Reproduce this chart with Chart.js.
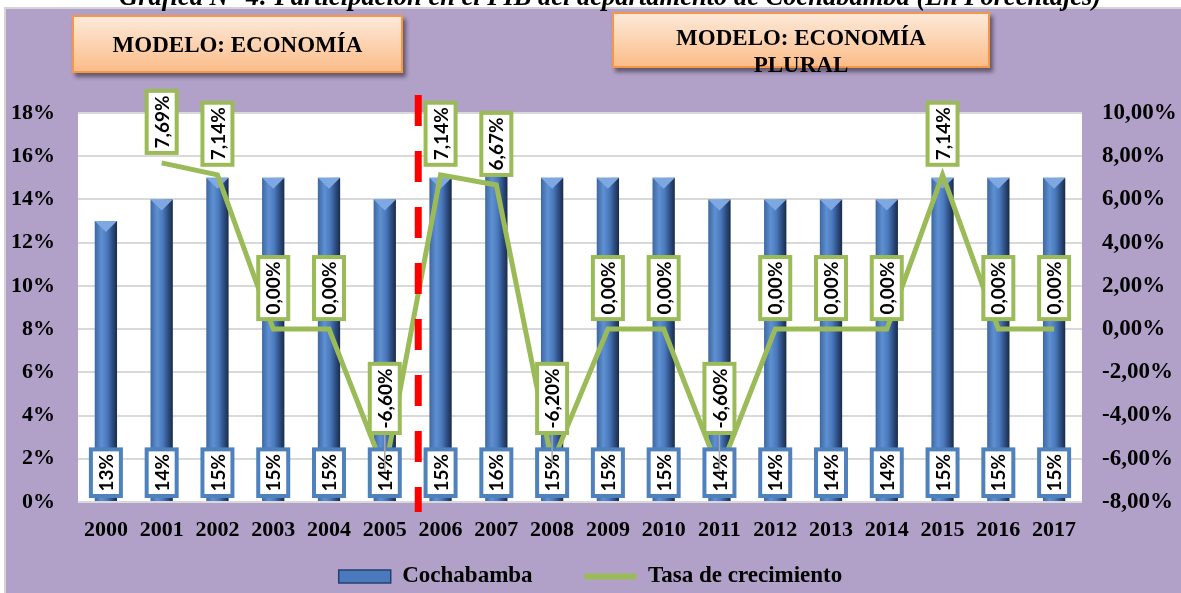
<!DOCTYPE html>
<html>
<head>
<meta charset="utf-8">
<script src="https://cdn.jsdelivr.net/npm/chart.js@4.4.0/dist/chart.umd.min.js"></script>
<style>
  body { margin: 0; background: #fff; }
  #wrap { position: relative; width: 1181px; height: 593px; overflow: hidden; }
  #titulo { position: absolute; left: 119px; top: -19px; font: italic bold 26.5px "Liberation Serif"; white-space: nowrap; z-index: 2; }
  .modelo { position: absolute; box-sizing: border-box; border: 2px solid #f79646;
            background: linear-gradient(#fde9d9, #fbbd8a); box-shadow: 3px 4px 4px rgba(0,0,0,.45);
            font: bold 23px "Liberation Serif"; text-align: center; z-index: 2; }
  #m1 { left: 72px; top: 15px; width: 331px; height: 58px; line-height: 56px; }
  #m2 { left: 612px; top: 12px; width: 378px; height: 56px; line-height: 27px; padding-top: 10px; }
  canvas { position: absolute; left: 0; top: 0; }
</style>
</head>
<body>
<div id="wrap">
  <div id="titulo">Gráfica N° 4: Participación en el PIB del departamento de Cochabamba (En Porcentajes)</div>
  <div class="modelo" id="m1">MODELO: ECONOMÍA</div>
  <div class="modelo" id="m2">MODELO: ECONOMÍA<br>PLURAL</div>
  <canvas id="myChart" width="1181" height="593"></canvas>
</div>
<script>
// datos
var anios = ['2000','2001','2002','2003','2004','2005','2006','2007','2008',
             '2009','2010','2011','2012','2013','2014','2015','2016','2017'];
var cochabamba = [13,14,15,15,15,14,15,16,15,15,15,14,14,14,14,15,15,15];
var tasa = [null,7.69,7.14,0,0,-6.60,7.14,6.67,-6.20,0,0,-6.60,0,0,0,7.14,0,0];
var ejeIzq = [0, 18, 2];    // min, max, paso (%)
var ejeDer = [-8, 10, 2];

var serif = '"Liberation Serif", "Times New Roman", serif';

function gradBarra(ctx) {
    var el = ctx.chart.getDatasetMeta(0).data[ctx.dataIndex];
    if (!el || !isFinite(el.x) || !isFinite(el.width)) return '#4f81bd';
    var w = el.width;
    var g = ctx.chart.ctx.createLinearGradient(el.x - w / 2, 0, el.x + w / 2, 0);
    g.addColorStop(0, '#3d67a3');
    g.addColorStop(0.3, '#5f90d2');
    g.addColorStop(0.55, '#4a7abd');
    g.addColorStop(0.8, '#2c4c80');
    g.addColorStop(1, '#1a2b48');
    return g;
}

function caja(c, x, yAbajo, texto, borde) {
    c.font = 'bold 19px Lato';
    var tw = c.measureText(texto).width;
    var w = 30, h = tw + 9;
    c.fillStyle = '#fff';
    c.fillRect(x - w / 2, yAbajo - h, w, h);
    c.lineWidth = 4;
    c.strokeStyle = borde;
    c.strokeRect(x - w / 2, yAbajo - h, w, h);
    c.save();
    c.translate(x, yAbajo - h / 2);
    c.rotate(-Math.PI / 2);
    c.fillStyle = '#000';
    c.textAlign = 'center';
    c.textBaseline = 'middle';
    c.fillText(texto, 0, 1);
    c.restore();
}

var fondo = {
    id: 'fondo',
    beforeDraw: function (chart) {
        var c = chart.ctx, a = chart.chartArea;
        c.save();
        c.fillStyle = '#d4d4d4';
        c.fillRect(4, 7, 1177, 586);
        c.fillStyle = '#b1a0c7';
        c.fillRect(6, 9, 1175, 584);
        c.fillStyle = '#fff';
        c.fillRect(a.left, a.top, a.right - a.left, a.bottom - a.top);
        c.restore();
    },
    afterDatasetDraw: function (chart, args) {
        if (args.index !== 0) return;
        // brillo en forma de V arriba de cada barra
        var c = chart.ctx;
        c.save();
        args.meta.data.forEach(function (b) {
            var l = b.x - b.width / 2, r = b.x + b.width / 2;
            c.fillStyle = '#7ea8e2';
            c.beginPath();
            c.moveTo(l, b.y);
            c.lineTo(r, b.y);
            c.lineTo(b.x, b.y + 11);
            c.closePath();
            c.fill();
        });
        c.restore();
    },
    afterDatasetsDraw: function (chart) {
        var c = chart.ctx;
        var x = chart.scales.x;
        // linea roja de corte entre 2005 y 2006
        var xr = x.getPixelForValue(5.6);
        c.save();
        c.strokeStyle = '#ff0000';
        c.lineWidth = 7;
        c.setLineDash([31, 25]);
        c.beginPath();
        c.moveTo(xr, 95);
        c.lineTo(xr, 512);
        c.stroke();
        c.setLineDash([]);

        var barras = chart.getDatasetMeta(0).data;
        barras.forEach(function (b, i) {
            caja(c, b.x, b.base - 5, cochabamba[i] + '%', '#4f81bd');
        });
        var puntos = chart.getDatasetMeta(1).data;
        puntos.forEach(function (p, i) {
            if (tasa[i] === null) return;
            var abajo = Math.min(p.y - 10, 433);
            if (p.y - abajo > 14) {
                c.strokeStyle = '#a6a6a6';
                c.lineWidth = 1.5;
                c.beginPath();
                c.moveTo(p.x, abajo);
                c.lineTo(p.x, p.y);
                c.stroke();
            }
            caja(c, p.x, abajo, tasa[i].toFixed(2).replace('.', ',') + '%', '#9bbb59');
        });
        c.restore();
    }
};

var ctx = document.getElementById('myChart').getContext('2d');
var myChart = new Chart(ctx, {
    data: {
        labels: anios,
        datasets: [{
            type: 'bar',
            label: 'Cochabamba',
            data: cochabamba,
            yAxisID: 'y',
            backgroundColor: gradBarra,
            barPercentage: 0.4,
            categoryPercentage: 1,
            order: 2
        }, {
            type: 'line',
            label: 'Tasa de crecimiento',
            data: tasa,
            yAxisID: 'y2',
            borderColor: '#9bbb59',
            borderWidth: 5,
            pointRadius: 0,
            tension: 0,
            order: 1
        }]
    },
    options: {
        responsive: false,
        animation: false,
        devicePixelRatio: 1,
        layout: { padding: { top: 113, left: 0, right: 0, bottom: -5 } },
        plugins: {
            tooltip: { enabled: false },
            legend: {
                position: 'bottom',
                labels: {
                    color: '#000',
                    font: { family: serif, size: 23, weight: 'bold' },
                    usePointStyle: true,
                    pointStyleWidth: 52,
                    boxHeight: 13,
                    padding: 6,
                    generateLabels: function () {
                        return [{
                            text: 'Cochabamba\u2003\u2003', pointStyle: 'rect',
                            fillStyle: '#4a7abd', strokeStyle: '#24406e', lineWidth: 1.5,
                            fontColor: '#000', datasetIndex: 0
                        }, {
                            text: 'Tasa de crecimiento', pointStyle: 'line',
                            fillStyle: '#9bbb59', strokeStyle: '#9bbb59', lineWidth: 6,
                            fontColor: '#000', datasetIndex: 1
                        }];
                    }
                }
            }
        },
        scales: {
            x: {
                grid: { display: false, drawTicks: false },
                border: { display: false },
                ticks: { color: '#000', padding: 15, maxRotation: 0,
                         font: { family: serif, size: 22, weight: 'bold' } },
                afterFit: function (s) { s.height = 57; }
            },
            y: {
                position: 'left',
                min: ejeIzq[0], max: ejeIzq[1],
                grid: { color: '#d9d9d9', lineWidth: 2, drawTicks: false },
                border: { display: false },
                ticks: { stepSize: ejeIzq[2], color: '#000', padding: 23,
                         font: { family: serif, size: 22, weight: 'bold' },
                         callback: function (v) { return v + '%'; } },
                afterFit: function (s) { s.width = 78; }
            },
            y2: {
                position: 'right',
                min: ejeDer[0], max: ejeDer[1],
                grid: { display: false, drawTicks: false },
                border: { display: false },
                ticks: { stepSize: ejeDer[2], color: '#000', padding: 20,
                         font: { family: serif, size: 23, weight: 'bold' },
                         callback: function (v) { return v.toFixed(2).replace('.', ',') + '%'; } },
                afterFit: function (s) { s.width = 99; }
            }
        }
    },
    plugins: [fondo]
});
myChart.update();
</script>
</body>
</html>
